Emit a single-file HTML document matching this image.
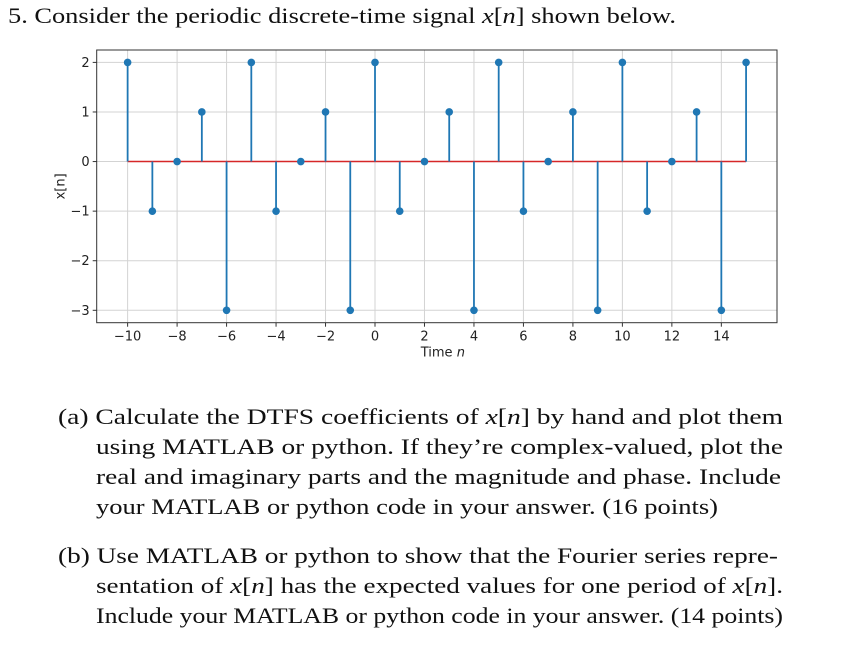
<!DOCTYPE html>
<html><head><meta charset="utf-8"><style>
body{margin:0;background:#fff;width:852px;height:664px;overflow:hidden;position:relative;font-family:"Liberation Serif",serif;color:#111}
.l{position:absolute;font-size:22px;line-height:30px;white-space:nowrap;transform-origin:0 50%}
</style></head><body>
<div class="l txt" style="left:8px;top:1px">5. Consider the periodic discrete-time signal <i>x</i>[<i>n</i>] shown below.</div>
<svg id="chart" width="852" height="370" style="position:absolute;left:0;top:0" font-family="'DejaVu Sans',sans-serif"></svg>
<div>
<div class="l txt" style="left:58px;top:402px">(a) Calculate the DTFS coefficients of <i>x</i>[<i>n</i>] by hand and plot them</div>
<div class="l txt" style="left:96px;top:432px">using MATLAB or python. If they’re complex-valued, plot the</div>
<div class="l txt" style="left:96px;top:462px">real and imaginary parts and the magnitude and phase. Include</div>
<div class="l txt" style="left:96px;top:492px">your MATLAB or python code in your answer. (16 points)</div>
</div>
<div>
<div class="l txt" style="left:58px;top:541px">(b) Use MATLAB or python to show that the Fourier series repre-</div>
<div class="l txt" style="left:96px;top:571px">sentation of <i>x</i>[<i>n</i>] has the expected values for one period of <i>x</i>[<i>n</i>].</div>
<div class="l txt" style="left:96px;top:601px">Include your MATLAB or python code in your answer. (14 points)</div>
</div>
<script>
const rightEdges=[676,783,783,781,718,778,783,783];
document.querySelectorAll('.txt').forEach((el,i)=>{
 const w=el.getBoundingClientRect().width;
 const target=rightEdges[i]-el.offsetLeft;
 el.style.transform='scaleX('+(target/w)+')';
});
const nValues=[-10,-9,-8,-7,-6,-5,-4,-3,-2,-1,0,1,2,3,4,5,6,7,8,9,10,11,12,13,14,15];
const xValues=[2,-1,0,1,-3,2,-1,0,1,-3,2,-1,0,1,-3,2,-1,0,1,-3,2,-1,0,1,-3,2];
const xTicks=[-10,-8,-6,-4,-2,0,2,4,6,8,10,12,14];
const yTicks=[2,1,0,-1,-2,-3];
const L=96.7,R=777,T=50,B=322.7,xmin=-11.25,xmax=16.25,ymin=-3.25,ymax=2.25;
const sx=v=>L+(v-xmin)/(xmax-xmin)*(R-L);
const sy=v=>B-(v-ymin)/(ymax-ymin)*(B-T);
const svg=document.getElementById('chart');
const NS='http://www.w3.org/2000/svg';
function mk(tag,at,parent){const e=document.createElementNS(NS,tag);for(const k in at)e.setAttribute(k,at[k]);(parent||svg).appendChild(e);return e;}
xTicks.forEach(t=>{
 const g=mk('line',{x1:sx(t),x2:sx(t),y1:T,y2:B,stroke:'#d3d3d3','stroke-width':1});
 
 
 mk('line',{x1:sx(t),x2:sx(t),y1:B,y2:B+4,stroke:'#333'});
 const tx=mk('text',{x:sx(t),y:B+18,'font-size':13,'text-anchor':'middle',fill:'#222'});
 tx.textContent=(t<0?'\u2212'+(-t):t);
 
 
});
yTicks.forEach(t=>{
 const g=mk('line',{x1:L,x2:R,y1:sy(t),y2:sy(t),stroke:'#d3d3d3','stroke-width':1});
 
 
 mk('line',{x1:L-4,x2:L,y1:sy(t),y2:sy(t),stroke:'#333'});
 const tx=mk('text',{x:L-7,y:sy(t)+4.5,'font-size':13,'text-anchor':'end',fill:'#222'});
 tx.textContent=(t<0?'\u2212'+(-t):t);
 
 
});
const base=mk('line',{x1:sx(nValues[0]),x2:sx(nValues[nValues.length-1]),y1:sy(0),y2:sy(0),stroke:'#d62728','stroke-width':1.5});


nValues.forEach((n,i)=>{
 const s=mk('line',{x1:sx(n),x2:sx(n),y1:sy(0),y2:sy(xValues[i]),stroke:'#1f77b4','stroke-width':1.8});
 
 
 const c=mk('circle',{cx:sx(n),cy:sy(xValues[i]),r:3.8,fill:'#1f77b4'});
 
 
});
const fr=mk('rect',{x:L,y:T,width:R-L,height:B-T,fill:'none',stroke:'#333','stroke-width':1});


const xl=mk('text',{x:(L+R)/2+6,y:B+34,'font-size':13,'text-anchor':'middle',fill:'#222'});
xl.innerHTML='Time <tspan font-style="italic">n</tspan>';


const yl=mk('text',{x:0,y:0,'font-size':13,'text-anchor':'middle',fill:'#222',transform:`translate(${L-32},${(T+B)/2}) rotate(-90)`});
yl.textContent='x[n]';


</script>
</body></html>
